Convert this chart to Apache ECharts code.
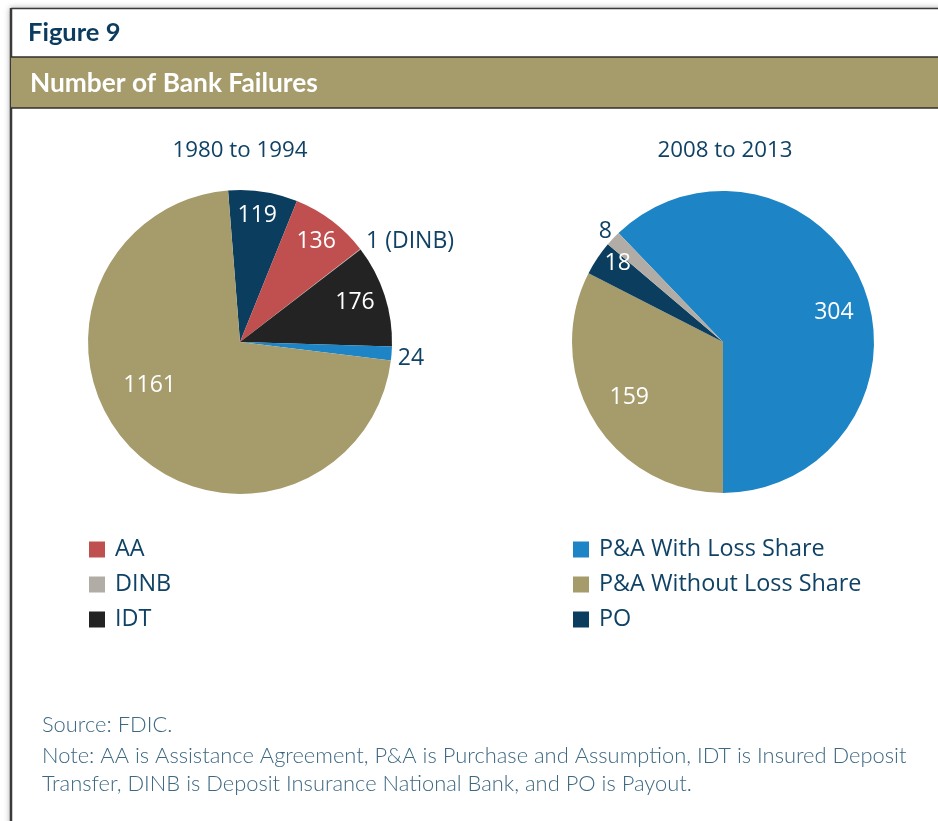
<!DOCTYPE html>
<html>
<head>
<meta charset="utf-8">
<script src="https://cdn.jsdelivr.net/npm/echarts@6/dist/echarts.min.js"></script>
<style>
html,body{margin:0;padding:0;background:#fff;}
#chart{width:938px;height:821px;}
</style>
</head>
<body>
<div id="chart"></div>
<script>
// ---- Data ----
var figureLabel = 'Figure 9';
var chartTitle = 'Number of Bank Failures';
var periodTitles = ['1980 to 1994', '2008 to 2013'];

var categories1 = ['PO', 'AA', 'DINB', 'IDT', 'P&A With Loss Share', 'P&A Without Loss Share'];
var values1 = [119, 136, 1, 176, 24, 1161];

var categories2 = ['P&A With Loss Share', 'P&A Without Loss Share', 'PO', 'DINB'];
var values2 = [304, 159, 18, 8];

var legendLeft = ['AA', 'DINB', 'IDT'];
var legendRight = ['P&A With Loss Share', 'P&A Without Loss Share', 'PO'];

var sourceText = 'Source: FDIC.';
var noteLines = [
  'Note: AA is Assistance Agreement, P&A is Purchase and Assumption, IDT is Insured Deposit',
  'Transfer, DINB is Deposit Insurance National Bank, and PO is Payout.'
];

// ---- Styles ----
var colors = {
  'AA': '#C0504F',
  'DINB': '#B1ADA6',
  'IDT': '#232323',
  'P&A With Loss Share': '#1D84C6',
  'P&A Without Loss Share': '#A69B6B',
  'PO': '#0B3D5F'
};
var navy = '#0F4265';
var noteColor = '#3D6882';
var chartFont = '"Open Sans", "Noto Sans", sans-serif';
var frameFont = 'Lato, "Open Sans", sans-serif';

// label placement: [fraction of radius, angle tweak (deg), outside (1) / inside (0)]
var place1 = [[0.84, -1, 0], [0.83, 0, 0], [1.30, 7, 1], [0.80, -1, 0], [1.13, 1, 1], [0.66, 18, 0]];
var place2 = [[0.76, 7, 0], [0.72, 1, 0], [0.87, 3, 0], [1.07, 0, 1]];

var fmt1 = function (p) { return p.name === 'DINB' ? p.value + ' (DINB)' : String(p.value); };
var fmt2 = function (p) { return String(p.value); };

var pie1 = {center: [240, 342], r: 152, start: 94.5};
var pie2 = {center: [723, 342], r: 151, start: 133.8};

function buildData(cats, vals, places) {
  return cats.map(function (c, i) {
    var outside = places[i][2] === 1;
    return {
      name: c, value: vals[i],
      itemStyle: {color: colors[c]},
      label: {color: outside ? navy : '#ffffff'}
    };
  });
}

function makeLayout(pie, vals, places) {
  var total = vals.reduce(function (a, b) { return a + b; }, 0);
  return function (p) {
    var i = p.dataIndex;
    var cum = 0;
    for (var k = 0; k < i; k++) cum += vals[k];
    var midDeg = (90 - pie.start) + 360 * (cum + vals[i] / 2) / total + places[i][1];
    var a = midDeg * Math.PI / 180;
    var d = places[i][0] * pie.r;
    return {
      x: pie.center[0] + d * Math.sin(a),
      y: pie.center[1] - d * Math.cos(a),
      align: 'center',
      verticalAlign: 'middle'
    };
  };
}

function pieSeries(pie, cats, vals, places, fmt) {
  return {
    type: 'pie',
    center: pie.center,
    radius: [0, pie.r],
    startAngle: pie.start,
    clockwise: true,
    avoidLabelOverlap: false,
    silent: true,
    itemStyle: {borderWidth: 0},
    label: {
      show: true,
      position: 'inside',
      fontSize: 23,
      fontFamily: chartFont,
      formatter: fmt
    },
    labelLine: {show: false},
    labelLayout: makeLayout(pie, vals, places),
    emphasis: {disabled: true},
    data: buildData(cats, vals, places)
  };
}

var chart = echarts.init(document.getElementById('chart'), null, {renderer: 'canvas'});

function legendCfg(data, left) {
  return {
    data: data,
    orient: 'vertical',
    left: left,
    top: 533,
    icon: 'rect',
    itemWidth: 16,
    itemHeight: 16,
    itemGap: 12,
    selectedMode: false,
    textStyle: {color: navy, fontSize: 23.4, fontFamily: chartFont, padding: [0, 0, 0, 5]}
  };
}

var option = {
  animation: false,
  backgroundColor: '#ffffff',
  legend: [legendCfg(legendLeft, 84), legendCfg(legendRight, 568)],
  graphic: [
    {type: 'rect', shape: {x: 11, y: 9, width: 960, height: 860}, style: {fill: '#fff', shadowBlur: 6, shadowColor: 'rgba(0,0,0,0.35)', shadowOffsetX: -1, shadowOffsetY: -1}, z: -10},
    {type: 'line', shape: {x1: 11, y1: 8.5, x2: 938, y2: 8.5}, style: {stroke: '#3a3a3a', lineWidth: 1.5}},
    {type: 'line', shape: {x1: 11, y1: 8, x2: 11, y2: 821}, style: {stroke: '#3a3a3a', lineWidth: 2.5}},
    {type: 'rect', shape: {x: 11, y: 57, width: 927, height: 51}, style: {fill: '#A69B6B'}},
    {type: 'line', shape: {x1: 11, y1: 57, x2: 938, y2: 57}, style: {stroke: '#2f2f2a', lineWidth: 1.5}},
    {type: 'line', shape: {x1: 11, y1: 108, x2: 938, y2: 108}, style: {stroke: '#2f2f2a', lineWidth: 1.5}},
    {type: 'text', x: 28, y: 33, style: {text: figureLabel, fill: '#0B3B5E', font: 'bold 25.5px ' + frameFont, textVerticalAlign: 'middle'}},
    {type: 'text', x: 30, y: 84, style: {text: chartTitle, fill: '#ffffff', font: 'bold 26.3px ' + frameFont, textVerticalAlign: 'middle'}},
    {type: 'text', x: 240, y: 151, style: {text: periodTitles[0], fill: navy, font: '22.3px ' + chartFont, textAlign: 'center', textVerticalAlign: 'middle'}},
    {type: 'text', x: 725, y: 151, style: {text: periodTitles[1], fill: navy, font: '22.3px ' + chartFont, textAlign: 'center', textVerticalAlign: 'middle'}},
    {type: 'text', x: 42, y: 725, style: {text: sourceText, fill: noteColor, font: '300 21.9px ' + frameFont, textVerticalAlign: 'middle'}},
    {type: 'text', x: 42, y: 756, style: {text: noteLines[0], fill: noteColor, font: '300 21.9px ' + frameFont, textVerticalAlign: 'middle'}},
    {type: 'text', x: 42, y: 784, style: {text: noteLines[1], fill: noteColor, font: '300 21.9px ' + frameFont, textVerticalAlign: 'middle'}}
  ],
  series: [
    pieSeries(pie1, categories1, values1, place1, fmt1),
    pieSeries(pie2, categories2, values2, place2, fmt2)
  ]
};
chart.setOption(option);
</script>
</body>
</html>
